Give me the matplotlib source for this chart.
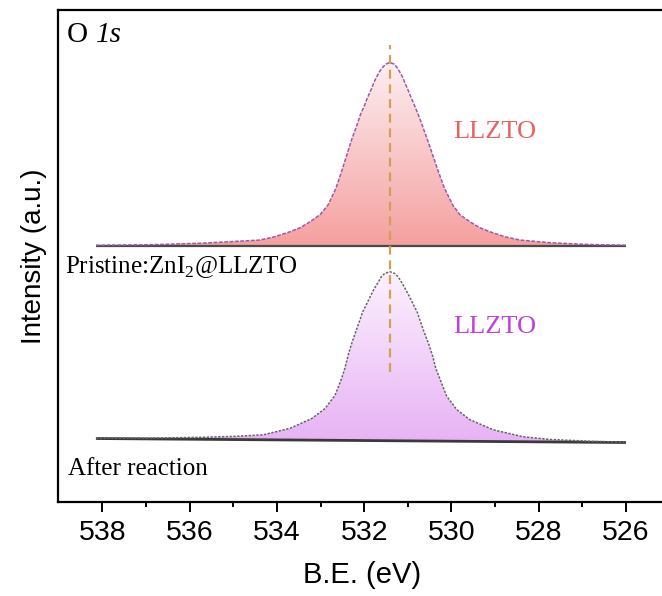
import numpy as np
import matplotlib
matplotlib.use("Agg")
import matplotlib.pyplot as plt
from matplotlib.patches import Polygon
from matplotlib.colors import LinearSegmentedColormap

# O 1s spectra: binding energy (eV) and fitted envelope above background (a.u.)
be_pristine = [538.15, 536.91, 535.76, 535.08, 534.39, 534.05, 533.70, 533.47, 533.24, 533.01,
               532.83, 532.65, 532.52, 532.40, 532.28, 532.21, 532.14, 532.08, 531.99, 531.94,
               531.83, 531.78, 531.72, 531.65, 531.59, 531.51, 531.41,
               531.31, 531.24, 531.19, 531.12, 531.07, 531.01, 530.91, 530.85, 530.77, 530.70,
               530.63, 530.56, 530.43, 530.30, 530.16, 529.97, 529.81, 529.58, 529.35, 529.12,
               528.78, 528.43, 527.74, 526.83, 526.00]
int_pristine = [0.5, 1.0, 2.5, 4.0, 5.7, 9.0, 14.0, 18.0, 24.0, 31.2,
                40.7, 57.4, 74.1, 90.7, 107.2, 115.5, 124.1, 132.0, 140.6, 146.6,
                157.3, 163.1, 168.6, 174.1, 177.8, 181.5, 183.3,
                181.5, 177.8, 174.1, 168.6, 163.1, 157.3, 146.6, 140.6, 132.0, 124.1,
                115.5, 107.2, 90.7, 74.1, 57.4, 40.7, 31.2, 24.0, 18.0, 14.0,
                9.0, 5.7, 3.0, 1.2, 0.5]

be_after = [538.15, 536.91, 535.76, 534.96, 534.31, 533.70, 533.20, 532.90, 532.67, 532.52,
            532.44, 532.37, 532.28, 532.17, 532.09, 532.04, 531.96, 531.85, 531.77, 531.68,
            531.61, 531.53, 531.41,
            531.30, 531.22, 531.14, 531.06, 530.97, 530.86, 530.78, 530.73, 530.65, 530.53,
            530.43, 530.36, 530.26, 530.11, 529.88, 529.58, 529.04, 528.36, 527.74, 526.83,
            526.00]
int_after = [0.3, 0.8, 2.0, 3.2, 5.0, 11.7, 21.7, 31.7, 45.0, 61.7,
             72.7, 85.0, 98.0, 111.7, 121.7, 128.3, 135.2, 145.0, 152.1, 158.3,
             163.9, 167.3, 169.0,
             167.3, 163.9, 158.3, 152.1, 145.0, 135.2, 128.3, 121.7, 111.7, 98.0,
             85.0, 72.7, 61.7, 45.0, 31.7, 21.7, 11.7, 5.0, 2.5, 1.0,
             0.3]

# linear backgrounds (value at the high-BE end, value at the low-BE end)
bg_range = [538.15, 526.00]
bg_pristine = [256.3, 256.3]
bg_after = [63.5, 59.5]

peak_center = 531.41
x_ticks = [538, 536, 534, 532, 530, 528, 526]

fig = plt.figure(figsize=(6.62, 5.96), dpi=100)
ax = fig.add_axes([0.0876, 0.1577, 0.9568, 0.8263])

serif = 'Liberation Serif'
sans = 'Liberation Sans'
plt.rcParams['mathtext.fontset'] = 'custom'
plt.rcParams['mathtext.rm'] = serif


def draw_spectrum(be, inten, bg, c_top, c_bottom, edge, edge_ls, base_color, base_lw):
    be = np.asarray(be)
    background = np.interp(be, bg_range[::-1], bg[::-1])
    y = background + np.asarray(inten)
    verts = np.column_stack([np.concatenate([be, be[::-1]]),
                             np.concatenate([y, background[::-1]])])
    clip = Polygon(verts, closed=True, facecolor='none', edgecolor='none')
    ax.add_patch(clip)
    cmap = LinearSegmentedColormap.from_list('grad', [c_bottom, c_top])
    grad = np.linspace(0, 1, 256).reshape(-1, 1)
    img = ax.imshow(grad, cmap=cmap, origin='lower', aspect='auto',
                    extent=[be.max(), be.min(), background.min(), y.max()],
                    interpolation='bilinear', zorder=1)
    img.set_clip_path(clip)
    ax.plot(be, background, color=base_color, lw=base_lw, zorder=2,
            solid_capstyle='butt')
    ax.plot(be, y, color=edge, lw=1.1, ls=edge_ls, zorder=3)


draw_spectrum(be_pristine, int_pristine, bg_pristine, '#fdeef1', '#f5a09f',
              '#9b5aa9', (0, (2.5, 1)), '#4a4a4a', 1.6)
draw_spectrum(be_after, int_after, bg_after, '#fcf1fd', '#e7b2f5',
              '#666666', (0, (1.5, 1)), '#3a3a3a', 2.0)

ax.vlines(peak_center, 130, 457, colors='#d2a055', linestyles=(0, (4, 2.6)),
          lw=1.6, zorder=4)

ax.set_xlim(539.02, 524.5)
ax.set_ylim(0, 492.5)
ax.set_xticks(x_ticks)
ax.set_xticklabels([str(t) for t in x_ticks], fontfamily=sans, fontsize=20.5)
ax.set_xticks(np.arange(537, 525, -2), minor=True)
ax.set_yticks([])
ax.tick_params(axis='x', which='major', direction='out', length=7, width=1.4, pad=6)
ax.tick_params(axis='x', which='minor', direction='out', length=3.5, width=1.4)
for sp in ax.spines.values():
    sp.set_linewidth(1.6)
    sp.set_color('black')
ax.spines['right'].set_visible(False)

ax.set_xlabel('B.E. (eV)', fontfamily=sans, fontsize=21)
ax.xaxis.set_label_coords(0.48, -0.148)
ax.xaxis.label.set_verticalalignment('center')
ax.set_ylabel('Intensity (a.u.)', fontfamily=sans, fontsize=20, labelpad=8)

ax.text(0.0142, 0.934, 'O', transform=ax.transAxes,
        fontfamily=serif, fontsize=21, ha='left', va='baseline')
ax.text(0.060, 0.934, '1s', transform=ax.transAxes, fontstyle='italic',
        fontfamily=serif, fontsize=21, ha='left', va='baseline')
ax.text(0.0111, 0.465, r'Pristine:ZnI$_2$@LLZTO', transform=ax.transAxes,
        fontfamily=serif, fontsize=18, ha='left', va='baseline')
ax.text(0.0158, 0.0548, 'After reaction', transform=ax.transAxes,
        fontfamily=serif, fontsize=18, ha='left', va='baseline')
ax.text(529.0, 370, 'LLZTO', color='#e8625e', fontfamily=serif, fontsize=19,
        ha='center', va='center')
ax.text(529.0, 175, 'LLZTO', color='#c23fdf', fontfamily=serif, fontsize=19,
        ha='center', va='center')

fig.savefig('out.png', dpi=100)
